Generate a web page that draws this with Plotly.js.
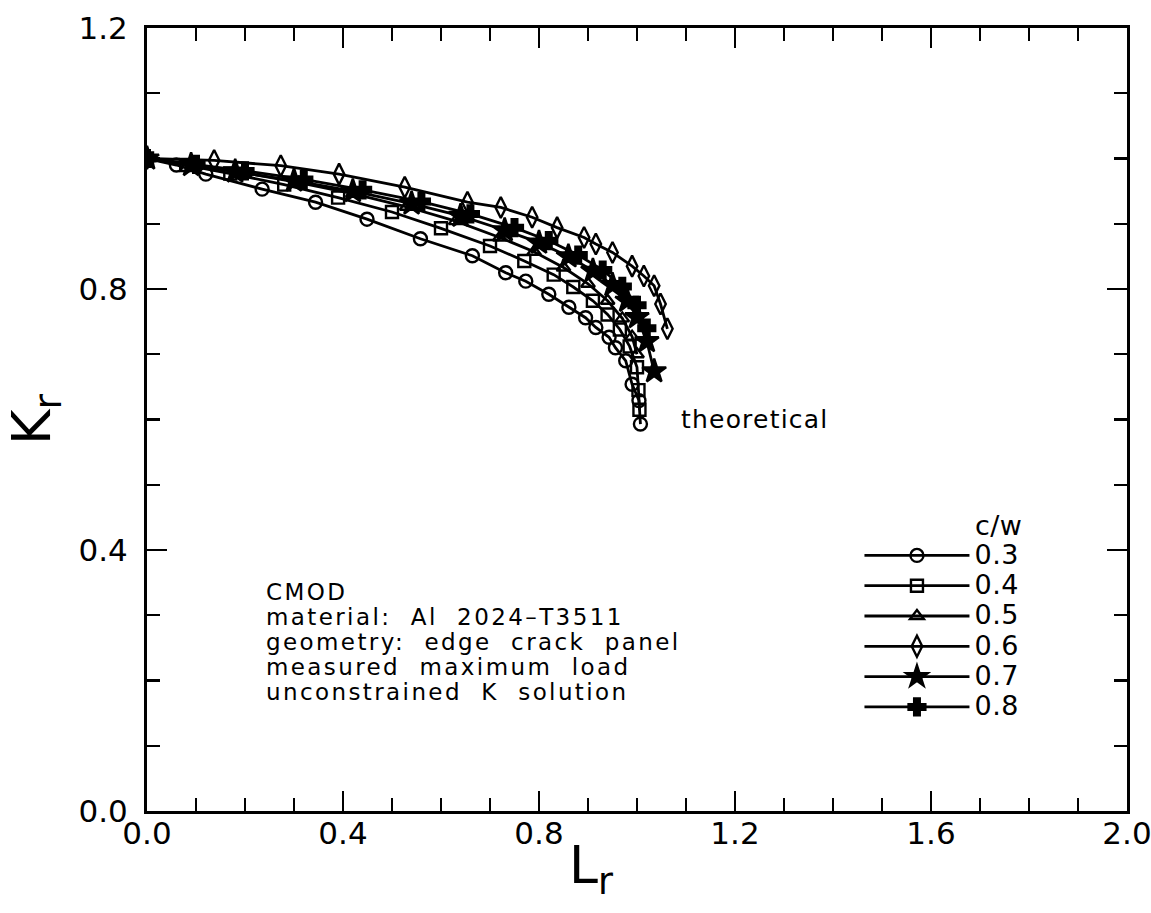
<!DOCTYPE html>
<html>
<head>
<meta charset="utf-8">
<script src="https://cdn.plot.ly/plotly-3.0.1.min.js"></script>
<style>
  html, body { margin: 0; padding: 0; background: #ffffff; }
  #chart { width: 1151px; height: 913px; }
</style>
</head>
<body>
<div id="chart"></div>
<script>
// ---- data ----
const seriesNames = ['0.3', '0.4', '0.5', '0.6', '0.7', '0.8'];

const L_03 = [0, 0.06, 0.12, 0.235, 0.344, 0.449, 0.558, 0.664, 0.732, 0.773, 0.820, 0.861, 0.895, 0.916, 0.943, 0.956, 0.977, 0.990, 1.004, 1.007];
const K_03 = [1.0, 0.99, 0.976, 0.953, 0.933, 0.907, 0.877, 0.851, 0.825, 0.812, 0.792, 0.772, 0.756, 0.741, 0.726, 0.710, 0.690, 0.654, 0.629, 0.593];

const L_04 = [0, 0.08, 0.17, 0.28, 0.39, 0.50, 0.60, 0.70, 0.77, 0.83, 0.87, 0.91, 0.94, 0.965, 0.985, 1.0, 1.003, 1.005];
const K_04 = [1.0, 0.99, 0.977, 0.96, 0.94, 0.918, 0.893, 0.866, 0.843, 0.822, 0.803, 0.782, 0.761, 0.738, 0.712, 0.68, 0.645, 0.615];

const L_05 = [0, 0.1, 0.2, 0.31, 0.42, 0.53, 0.63, 0.72, 0.79, 0.85, 0.9, 0.94, 0.97, 0.99, 1.0];
const K_05 = [1.0, 0.99, 0.978, 0.963, 0.946, 0.926, 0.904, 0.879, 0.857, 0.833, 0.808, 0.782, 0.755, 0.727, 0.70];

const L_06 = [0, 0.137, 0.273, 0.392, 0.526, 0.654, 0.722, 0.786, 0.837, 0.892, 0.916, 0.950, 0.990, 1.014, 1.035, 1.048, 1.062];
const K_06 = [1.0, 0.997, 0.989, 0.976, 0.956, 0.933, 0.925, 0.910, 0.894, 0.879, 0.869, 0.856, 0.835, 0.820, 0.805, 0.777, 0.739];

const L_07 = [0, 0.09, 0.18, 0.3, 0.42, 0.54, 0.64, 0.73, 0.8, 0.86, 0.91, 0.95, 0.98, 1.0, 1.02, 1.035];
const K_07 = [1.0, 0.99, 0.98, 0.966, 0.95, 0.931, 0.912, 0.89, 0.871, 0.85, 0.828, 0.806, 0.782, 0.757, 0.72, 0.674];

const L_08 = [0, 0.1, 0.2, 0.32, 0.44, 0.56, 0.66, 0.75, 0.82, 0.88, 0.93, 0.97, 1.0, 1.02];
const K_08 = [1.0, 0.991, 0.981, 0.968, 0.952, 0.934, 0.915, 0.894, 0.874, 0.852, 0.829, 0.804, 0.775, 0.74];

const xTickVals = [0, 0.4, 0.8, 1.2, 1.6, 2.0];
const yTickVals = [0, 0.4, 0.8, 1.2];

const xTitle = 'L<sub>r</sub>';
const yTitle = 'K<sub>r</sub>';
const infoLines = [
  'CMOD',
  'material:\u00A0 Al\u00A0 2024\u2013T3511',
  'geometry:\u00A0 edge\u00A0 crack\u00A0 panel',
  'measured\u00A0 maximum\u00A0 load',
  'unconstrained\u00A0 K\u00A0 solution'
];
const legendTitle = 'c/w';
const curveNote = 'theoretical';

// ---- styling ----
const FONT = 'DejaVu Sans, Liberation Sans, sans-serif';
const BIG = (t, px, ls) => `<span style="font-size:${px}px;letter-spacing:${ls}px">${t}</span>`;

const xs = [L_03, L_04, L_05, L_06, L_07, L_08];
const ys = [K_03, K_04, K_05, K_06, K_07, K_08];
const symbols = ['circle-open', 'square-open', 'triangle-up-open', 'diamond-tall-open', 'star', 'cross'];
const sizes = [13, 12, 12, 15, 18, 14];

const traces = seriesNames.map((n, i) => ({
  x: xs[i], y: ys[i], name: BIG(n, 27, 0.5), type: 'scatter', mode: 'lines+markers',
  line: { color: '#000', width: 2.8 },
  marker: { symbol: symbols[i], size: sizes[i], color: '#000', line: { color: '#000', width: 2.4 } }
}));

const annotations = [
  {
    text: infoLines.map(t => BIG(t, 23, 2.4)).join('<br>'),
    xref: 'paper', yref: 'paper', x: 0.1195, y: 0.216,
    xanchor: 'left', yanchor: 'middle', align: 'left', showarrow: false,
    font: { family: FONT, size: 19.2, color: '#000' }
  },
  {
    text: BIG(curveNote, 25, 1.2), xref: 'x', yref: 'y', x: 1.085, y: 0.6,
    xanchor: 'left', yanchor: 'middle', showarrow: false,
    font: { family: FONT, size: 25, color: '#000' }
  },
  {
    text: xTitle, xref: 'paper', yref: 'paper', x: 0.4535, y: -0.074,
    xanchor: 'center', yanchor: 'middle', showarrow: false,
    font: { family: FONT, size: 52, color: '#000' }
  }
];

const axisCommon = {
  showgrid: false, zeroline: false, showline: true, linecolor: '#000', linewidth: 3,
  mirror: 'ticks', ticks: 'inside', ticklen: 20, tickwidth: 2.5, tickcolor: '#000',
  tickmode: 'array', tickformat: '.1f', ticklabeloverflow: 'allow',
  tickfont: { family: FONT, size: 31, color: '#000' },
  minor: { tickmode: 'linear', tick0: 0, dtick: 0.1, ticks: 'inside', ticklen: 13, tickwidth: 2.2, tickcolor: '#000' }
};

const layout = {
  width: 1151, height: 913,
  margin: { l: 147, r: 24, t: 28, b: 102 },
  paper_bgcolor: '#fff', plot_bgcolor: '#fff',
  showlegend: true,
  xaxis: Object.assign({}, axisCommon, {
    range: [0, 2], tickvals: xTickVals, ticktext: xTickVals.map(v => v.toFixed(1)), ticklabelstandoff: -7
  }),
  yaxis: Object.assign({}, axisCommon, {
    range: [0, 1.2], tickvals: yTickVals, ticktext: yTickVals.map(v => v.toFixed(1)), ticklabelstandoff: 10,
    title: { text: yTitle, font: { family: FONT, size: 54, color: '#000' }, standoff: 14 }
  }),
  legend: {
    x: 0.727, y: 0.397, xanchor: 'left', yanchor: 'top',
    bgcolor: 'rgba(0,0,0,0)', borderwidth: 0,
    font: { family: FONT, size: 21, color: '#000' },
    title: { text: BIG(legendTitle, 27, 0.5), side: 'top right', font: { family: FONT, size: 27, color: '#000' } },
    tracegroupgap: 0, itemwidth: 105
  },
  annotations: annotations
};

Plotly.newPlot('chart', traces, layout, { displayModeBar: false, staticPlot: true });
</script>
</body>
</html>
